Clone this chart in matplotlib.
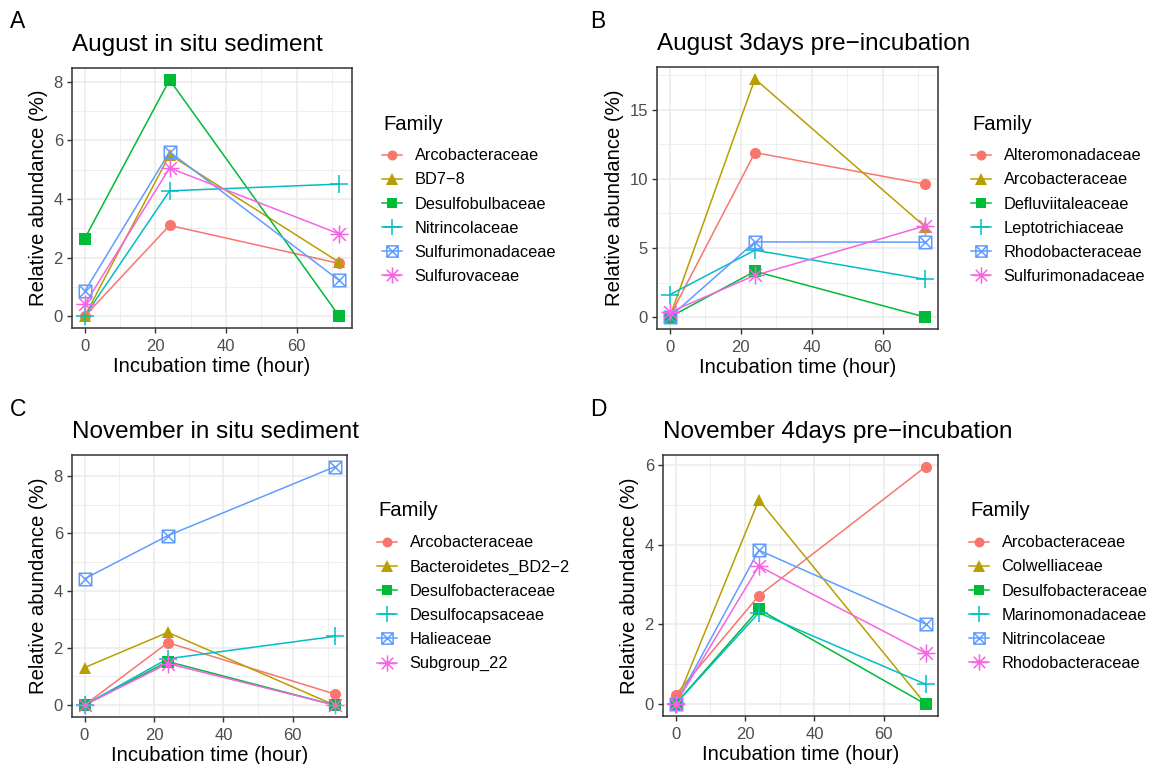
import matplotlib
matplotlib.use("Agg")
import matplotlib.pyplot as plt
import numpy as np
from matplotlib.path import Path
from matplotlib.lines import Line2D

plt.rcParams['font.family'] = ['Liberation Sans', 'DejaVu Sans']

hours = [0, 24, 72]

# Panel A
a_title = "August in situ sediment"
a_families = ["Arcobacteraceae", "BD7\u22128", "Desulfobulbaceae", "Nitrincolaceae",
              "Sulfurimonadaceae", "Sulfurovaceae"]
a_values = [
    [0.0, 3.10, 1.80],
    [0.0, 5.51, 1.84],
    [2.65, 8.07, 0.0],
    [0.0, 4.28, 4.51],
    [0.85, 5.61, 1.22],
    [0.40, 5.06, 2.81],
]

# Panel B
b_title = "August 3days pre\u2212incubation"
b_families = ["Alteromonadaceae", "Arcobacteraceae", "Defluviitaleaceae", "Leptotrichiaceae",
              "Rhodobacteraceae", "Sulfurimonadaceae"]
b_values = [
    [0.05, 11.9, 9.62],
    [0.0, 17.23, 6.53],
    [0.0, 3.31, 0.0],
    [1.62, 4.84, 2.73],
    [0.0, 5.44, 5.42],
    [0.35, 3.02, 6.60],
]

# Panel C
c_title = "November in situ sediment"
c_families = ["Arcobacteraceae", "Bacteroidetes_BD2\u22122", "Desulfobacteraceae",
              "Desulfocapsaceae", "Halieaceae", "Subgroup_22"]
c_values = [
    [0.0, 2.18, 0.39],
    [1.31, 2.54, 0.0],
    [0.0, 1.52, 0.0],
    [0.0, 1.62, 2.40],
    [4.41, 5.92, 8.32],
    [0.0, 1.45, 0.0],
]

# Panel D
d_title = "November 4days pre\u2212incubation"
d_families = ["Arcobacteraceae", "Colwelliaceae", "Desulfobacteraceae", "Marinomonadaceae",
              "Nitrincolaceae", "Rhodobacteraceae"]
d_values = [
    [0.23, 2.72, 5.95],
    [0.0, 5.12, 0.0],
    [0.0, 2.38, 0.0],
    [0.0, 2.29, 0.50],
    [0.0, 3.86, 2.01],
    [0.0, 3.46, 1.28],
]

colors = ["#F8766D", "#B79F00", "#00BA38", "#00BFC4", "#619CFF", "#F564E3"]

# custom markers
boxx = Path([(-1, -1), (1, -1), (1, 1), (-1, 1), (-1, -1), (-1, -1), (1, 1), (-1, 1), (1, -1)],
            [Path.MOVETO, Path.LINETO, Path.LINETO, Path.LINETO, Path.CLOSEPOLY,
             Path.MOVETO, Path.LINETO, Path.MOVETO, Path.LINETO])
s = 0.7071
star = Path([(-1, 0), (1, 0), (0, -1), (0, 1), (-s, -s), (s, s), (-s, s), (s, -s)],
            [Path.MOVETO, Path.LINETO] * 4)
markers = [
    dict(marker='o', ms=8, mfc=None, mew=0),
    dict(marker='^', ms=9, mfc=None, mew=0),
    dict(marker='s', ms=8, mfc=None, mew=0),
    dict(marker='+', ms=13, mfc='none', mew=1.1),
    dict(marker=boxx, ms=9, mfc='none', mew=1.1),
    dict(marker=star, ms=13, mfc='none', mew=1.1),
]

W, H = 1149, 764
fig = plt.figure(figsize=(W / 100, H / 100), dpi=100)

def fx(px):
    return px / W

def fy(py):
    return 1 - py / H

panels = [
    ("A", a_title, a_families, a_values, (72, 68, 352, 328), [0, 2, 4, 6, 8], (383, 124), (10, 22)),
    ("B", b_title, b_families, b_values, (657, 67, 938, 329), [0, 5, 10, 15], (972, 124), (590, 22)),
    ("C", c_title, c_families, c_values, (72, 455, 347, 717), [0, 2, 4, 6, 8], (378, 511), (10, 410)),
    ("D", d_title, d_families, d_values, (663, 455, 938, 716), [0, 2, 4, 6], (970, 511), (590, 410)),
]

for tag, title, fams, vals, box, yticks, legpos, tagpos in panels:
    l, t, r, b = box
    ax = fig.add_axes([fx(l), fy(b), fx(r) - fx(l), fy(t) - fy(b)])
    ymax = max(max(v) for v in vals)
    ymin = 0.0
    pad = (ymax - ymin) * 0.05
    ax.set_ylim(ymin - pad, ymax + pad)
    ax.set_xlim(-3.6, 75.6)
    ax.set_xticks([0, 20, 40, 60])
    ax.set_yticks(yticks)
    ax.set_xticks([10, 30, 50, 70], minor=True)
    step = yticks[1] - yticks[0]
    ax.set_yticks([y + step / 2 for y in yticks if y + step / 2 < ymax + pad], minor=True)
    ax.grid(which='major', color='#EBEBEB', lw=1.1)
    ax.grid(which='minor', color='#EBEBEB', lw=0.55)
    ax.set_axisbelow(True)
    for sp in ax.spines.values():
        sp.set_color('#333333')
        sp.set_linewidth(1.1)
    ax.tick_params(which='major', length=3.5, width=1.0, color='#333333',
                   labelsize=12, labelcolor='#4D4D4D', pad=3)
    ax.tick_params(axis='x', which='major', pad=4.5)
    ax.tick_params(which='minor', length=0)
    handles = []
    for i, (fam, v) in enumerate(zip(fams, vals)):
        ax.plot(hours, v, color=colors[i], lw=1.1, zorder=2)
    for i, (fam, v) in enumerate(zip(fams, vals)):
        m = markers[i]
        mfc = colors[i] if m['mfc'] is None else m['mfc']
        ax.plot(hours, v, ls='none', marker=m['marker'], ms=m['ms'], mfc=mfc,
                mec=colors[i], mew=m['mew'], zorder=3, clip_on=False)
        handles.append(Line2D([], [], color=colors[i], lw=1.1, marker=m['marker'],
                              ms=m['ms'] * 0.9, mfc=mfc, mec=colors[i], mew=m['mew']))
    ax.set_xlabel("Incubation time (hour)", fontsize=14.6, labelpad=2)
    ax.set_ylabel("Relative abundance (%)", fontsize=14.6, labelpad=4)
    fig.text(fx(l), fy(t - 23), title, fontsize=17.5, ha='left', va='center')
    fig.text(fx(tagpos[0]), fy(tagpos[1]), tag, fontsize=16.5, ha='left', va='center')
    fig.text(fx(legpos[0]), fy(legpos[1]), "Family", fontsize=14.6, ha='left', va='center')
    leg = fig.legend(handles, fams, loc='upper left',
                     bbox_to_anchor=(fx(legpos[0] - 4.5), fy(legpos[1] + 21)),
                     frameon=False, fontsize=11.8, handlelength=1.25, handletextpad=0.75,
                     labelspacing=0.56, numpoints=1, borderaxespad=0, borderpad=0.2)

fig.savefig("out.png", dpi=100, facecolor='white')
